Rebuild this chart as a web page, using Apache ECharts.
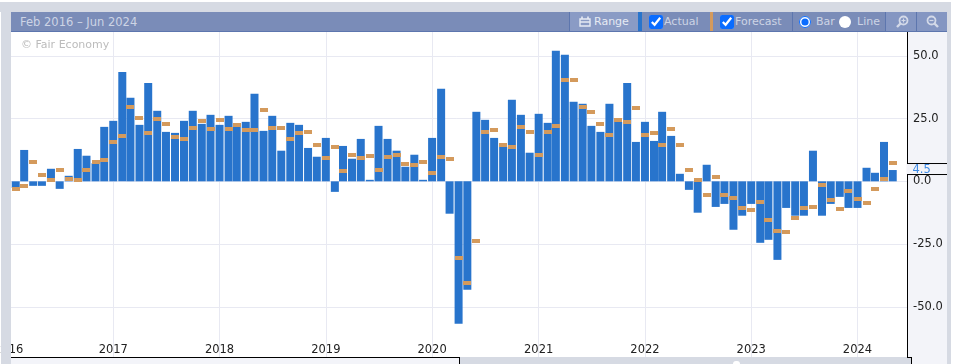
<!DOCTYPE html>
<html>
<head>
<meta charset="utf-8">
<title>Fair Economy</title>
<script src="https://cdn.jsdelivr.net/npm/echarts@6/dist/echarts.min.js"></script>
<style>
    html, body { margin: 0; padding: 0; width: 959px; height: 364px; overflow: hidden; background: #fff; font-family: "DejaVu Sans", sans-serif; }
    .box { position: absolute; }
    #chart { position: absolute; left: 0; top: 0; width: 959px; height: 364px; }
    .bar-text { position: absolute; top: 12px; line-height: 20px; font-size: 11px; color: #cdd4e5; white-space: nowrap; }
    input { position: absolute; margin: 0; }
    input[type=checkbox] { top: 15px; width: 14px; height: 14px; accent-color: #0a6cff; }
    input[type=radio] { top: 15.5px; width: 12px; height: 12px; accent-color: #0a6cff; }
    svg { position: absolute; top: 15px; }
</style>
</head>
<body>
<!-- under the chart canvas -->
<div class="box" style="left:11px;top:32px;width:896px;height:325px;background:#fff"></div>
<div class="box" style="left:907px;top:32px;width:40px;height:332px;background:#f3f4f9"></div>

<div id="chart"></div>

<!-- frame and toolbar, on top of the canvas -->
<div class="box" style="left:0;top:2px;width:950px;height:10px;background:#d6dae3"></div>
<div class="box" style="left:1px;top:2px;width:10px;height:362px;background:#d6dae3"></div>
<div class="box" style="left:947px;top:2px;width:4px;height:362px;background:#d6dae3"></div>
<div class="box" style="left:11px;top:357px;width:448px;height:1px;background:#000"></div>
<div class="box" style="left:11px;top:358px;width:448px;height:6px;background:#f3f4f9"></div>
<div class="box" style="left:459px;top:357px;width:1px;height:7px;background:#000"></div>
<div class="box" style="left:460px;top:357px;width:447px;height:7px;background:#d6dae3"></div>
<div class="box" style="left:907px;top:358px;width:4px;height:6px;background:#d6dae3"></div>
<div class="box" style="left:907px;top:357px;width:5px;height:1px;background:#000"></div>
<div class="box" style="left:911px;top:357px;width:1px;height:7px;background:#000"></div>
<div class="box" style="left:733px;top:361px;width:7px;height:3px;border-radius:4px 4px 0 0;background:#fff"></div>

<div class="box" style="left:11px;top:12px;width:936px;height:19px;background:#7a8cb8"></div>
<div class="box" style="left:11px;top:31px;width:936px;height:1px;background:#5d76ae"></div>
<div class="box" style="left:569px;top:12px;width:1px;height:19px;background:#5d76ae"></div>
<div class="box" style="left:570px;top:12px;width:68px;height:19px;background:#8a9bc5"></div>
<div class="box" style="left:638px;top:12px;width:4px;height:19px;background:#2874cc"></div>
<div class="box" style="left:710px;top:12px;width:3px;height:19px;background:#d49a5c"></div>
<div class="box" style="left:792px;top:12px;width:1px;height:19px;background:#5d76ae"></div>
<div class="box" style="left:885px;top:12px;width:1px;height:19px;background:#5d76ae"></div>
<div class="box" style="left:886px;top:12px;width:30px;height:19px;background:#8496c2"></div>
<div class="box" style="left:916px;top:12px;width:1px;height:19px;background:#5d76ae"></div>
<div class="box" style="left:917px;top:12px;width:30px;height:19px;background:#8496c2"></div>

<div class="bar-text" style="left:20px;font-size:11.5px">Feb 2016 – Jun 2024</div>
<svg style="left:579px" width="12" height="13" viewBox="0 0 12 13">
    <path d="M1 4h10v7H1z M1 7h10" fill="none" stroke="#e6eaf3" stroke-width="1.4"/>
    <path d="M3 1.5v2.5M9 1.5v2.5" stroke="#e6eaf3" stroke-width="1.6"/>
</svg>
<div class="bar-text" style="left:594px;color:#e6eaf3">Range</div>
<input type="checkbox" checked style="left:649px">
<div class="bar-text" style="left:664px">Actual</div>
<input type="checkbox" checked style="left:720px">
<div class="bar-text" style="left:735px">Forecast</div>
<input type="radio" name="kind" checked style="left:799px">
<div class="bar-text" style="left:816px">Bar</div>
<input type="radio" name="kind" style="left:839px;appearance:none;background:#fff;border-radius:50%">
<div class="bar-text" style="left:857px">Line</div>
<svg style="left:895px" width="14" height="14" viewBox="0 0 14 14">
    <circle cx="8.5" cy="5.5" r="4" fill="none" stroke="#d3d9e8" stroke-width="1.8"/>
    <path d="M5.5 8.5L2 12" stroke="#d3d9e8" stroke-width="2.4"/>
    <path d="M6.5 5.5h4M8.5 3.5v4" stroke="#d3d9e8" stroke-width="1.2"/>
</svg>
<svg style="left:926px" width="14" height="14" viewBox="0 0 14 14">
    <circle cx="5.5" cy="5.5" r="4" fill="none" stroke="#d3d9e8" stroke-width="1.8"/>
    <path d="M8.5 8.5L12 12" stroke="#d3d9e8" stroke-width="2.4"/>
    <path d="M3.5 5.5h4" stroke="#d3d9e8" stroke-width="1.2"/>
</svg>

<script>
/* data */
const months = [
    '2016-02', '2016-03', '2016-04', '2016-05', '2016-06', '2016-07', '2016-08', '2016-09', '2016-10', '2016-11', '2016-12',
    '2017-01', '2017-02', '2017-03', '2017-04', '2017-05', '2017-06', '2017-07', '2017-08', '2017-09', '2017-10', '2017-11', '2017-12',
    '2018-01', '2018-02', '2018-03', '2018-04', '2018-05', '2018-06', '2018-07', '2018-08', '2018-09', '2018-10', '2018-11', '2018-12',
    '2019-01', '2019-02', '2019-03', '2019-04', '2019-05', '2019-06', '2019-07', '2019-08', '2019-09', '2019-10', '2019-11', '2019-12',
    '2020-01', '2020-02', '2020-03', '2020-04', '2020-05', '2020-06', '2020-07', '2020-08', '2020-09', '2020-10', '2020-11', '2020-12',
    '2021-01', '2021-02', '2021-03', '2021-04', '2021-05', '2021-06', '2021-07', '2021-08', '2021-09', '2021-10', '2021-11', '2021-12',
    '2022-01', '2022-02', '2022-03', '2022-04', '2022-05', '2022-06', '2022-07', '2022-08', '2022-09', '2022-10', '2022-11', '2022-12',
    '2023-01', '2023-02', '2023-03', '2023-04', '2023-05', '2023-06', '2023-07', '2023-08', '2023-09', '2023-10', '2023-11', '2023-12',
    '2024-01', '2024-02', '2024-03', '2024-04', '2024-05',
];
const actual = [
    -2.7, 12.5, -1.8, -1.8, 5.0, -3.0, 2.2, 12.9, 10.2, 7.2, 21.7,
    24.1, 43.6, 33.3, 22.5, 39.2, 28.1, 19.7, 19.3, 24.1, 28.1, 22.9, 26.5,
    22.5, 26.1, 21.7, 23.7, 34.9, 20.1, 26.1, 12.2, 23.3, 22.5, 13.3, 9.8,
    17.3, -4.2, 14.1, 9.0, 16.9, 0.6, 22.1, 16.9, 12.2, 5.8, 10.6, 0.6,
    17.3, 36.9, -12.9, -56.8, -43.2, 27.7, 24.5, 17.3, 13.7, 32.5, 26.5, 11.4,
    26.9, 23.3, 52.0, 50.4, 31.7, 30.9, 22.1, 19.7, 30.9, 23.7, 39.2, 15.7,
    23.7, 16.1, 27.7, 18.1, 3.0, -3.4, -12.5, 6.6, -10.2, -9.0, -19.3, -13.7,
    -9.0, -24.5, -23.3, -31.3, -10.6, -13.7, -13.7, 12.2, -13.7, -9.0, -6.2, -10.6,
    -10.6, 5.4, 3.4, 15.7, 4.5,
];
const forecast = [
    -3.2, -1.8, 7.8, 2.6, 0.6, 4.6, 1.0, 0.6, 4.6, 7.8, 8.6,
    15.7, 18.1, 29.7, 25.3, 19.3, 24.9, 22.9, 17.7, 16.9, 21.3, 24.1, 20.9,
    24.5, 20.9, 22.5, 20.5, 20.5, 28.5, 21.3, 21.3, 16.9, 19.3, 19.7, 14.5,
    9.4, 13.7, 4.2, 10.6, 9.4, 10.2, 4.6, 9.8, 10.6, 7.0, 6.6, 7.8,
    3.4, 9.8, 9.0, -30.5, -40.4, -23.7, 19.7, 20.5, 14.5, 13.7, 21.7, 19.7,
    10.6, 19.7, 22.1, 40.4, 40.4, 29.7, 27.7, 22.9, 18.5, 24.5, 23.7, 29.3,
    18.5, 19.3, 14.5, 20.9, 14.5, 4.6, 0.6, -5.4, 1.8, -5.4, -6.6, -10.6,
    -11.4, -8.2, -15.3, -19.7, -20.1, -14.5, -10.6, -10.2, -1.4, -7.3, -10.9, -3.8,
    -7.0, -8.6, -3.0, 1.0, 7.4,
];
const yearTicks = ['2016-01', '2017-01', '2018-01', '2019-01', '2020-01', '2021-01', '2022-01', '2023-01', '2024-01'];
const valueTicks = [-50, -25, 0, 25, 50];

const AXIS_FONT = '"DejaVu Sans", sans-serif';
const toTime = (m) => {
    const [y, mon] = m.split('-').map(Number);
    return new Date(y, mon - 1, 1).getTime();
};
const yearTimes = yearTicks.map(toTime);

const chart = echarts.init(document.getElementById('chart'));
chart.setOption({
    animation: false,
    backgroundColor: 'transparent',
    // 2016 label is meant to hang off the left edge, the frame cuts it
    grid: { left: 6.7, right: 52, top: 32, bottom: 7, outerBoundsMode: 'none' },
    // plain value axis holding timestamps, so the year ticks can be given by hand
    xAxis: {
        type: 'value',
        min: toTime('2016-01'),
        max: new Date(2024, 5, 19).getTime(),
        axisLine: { show: false },
        axisTick: { show: false, customValues: yearTimes },
        splitLine: { show: true, lineStyle: { color: '#e8e9f2', width: 1 } },
        axisLabel: {
            customValues: yearTimes,
            inside: true,
            margin: 1,
            color: '#222',
            fontSize: 11.5,
            fontFamily: AXIS_FONT,
            rich: { first: { padding: [0, 0, 0, 4], color: '#222', fontSize: 11.5, fontFamily: AXIS_FONT } },
            formatter: (v) => {
                const year = String(new Date(v).getFullYear());
                return v === yearTimes[0] ? `{first|${year}}` : year;
            },
        },
    },
    yAxis: {
        type: 'value',
        position: 'right',
        min: -70,
        max: 59.5,
        axisLine: { show: true, onZero: false, lineStyle: { color: '#000', width: 1 } },
        axisTick: { show: false, customValues: valueTicks },
        splitLine: { show: true, lineStyle: { color: '#e8e9f2', width: 1 } },
        axisLabel: {
            customValues: valueTicks,
            margin: 6,
            color: '#222',
            fontSize: 11.5,
            fontFamily: AXIS_FONT,
            formatter: (v) => v.toFixed(1),
        },
    },
    series: [
        {
            name: 'Actual',
            type: 'bar',
            barWidth: 8,
            itemStyle: { color: '#2874cc' },
            data: months.map((m, i) => [toTime(m), actual[i]]),
        },
        {
            name: 'Forecast',
            type: 'custom',
            z: 5,
            encode: { x: 0, y: 1 },
            data: months.map((m, i) => [toTime(m), forecast[i]]),
            // snapped to whole pixels so the little dashes stay crisp
            renderItem: (params, api) => {
                const [x, y] = api.coord([api.value(0), api.value(1)]);
                return {
                    type: 'rect',
                    shape: { x: Math.round(x - 4), y: Math.round(y - 2), width: 8, height: 4 },
                    style: { fill: '#d49a5c' },
                };
            },
        },
    ],
});

// watermark, and the last value tag that breaks the axis line
const lastValue = actual[actual.length - 1];
const tagY = chart.convertToPixel({ yAxisIndex: 0 }, lastValue);
chart.setOption({
    graphic: [
        {
            type: 'text', left: 21, top: 40, silent: true,
            style: { text: '© Fair Economy', fontSize: 11, fontFamily: AXIS_FONT, fill: '#bcbcbc' },
        },
        {
            type: 'rect', z: 10, silent: true,
            shape: { x: 906.5, y: tagY - 6.5, width: 41, height: 11 },
            style: { fill: '#f3f4f9', stroke: null },
        },
        {
            type: 'line', z: 11, silent: true,
            shape: { x1: 907, y1: tagY - 6.5, x2: 947, y2: tagY - 6.5 },
            style: { stroke: '#000', lineWidth: 1 },
        },
        {
            type: 'line', z: 11, silent: true,
            shape: { x1: 907, y1: tagY + 4.5, x2: 947, y2: tagY + 4.5 },
            style: { stroke: '#000', lineWidth: 1 },
        },
        {
            type: 'text', z: 11, silent: true, x: 912.5, y: tagY - 0.5,
            style: {
                text: lastValue.toFixed(1), fontSize: 11.5, fontFamily: AXIS_FONT,
                fill: '#3d8ae5', verticalAlign: 'middle',
            },
        },
    ],
});
</script>
</body>
</html>
